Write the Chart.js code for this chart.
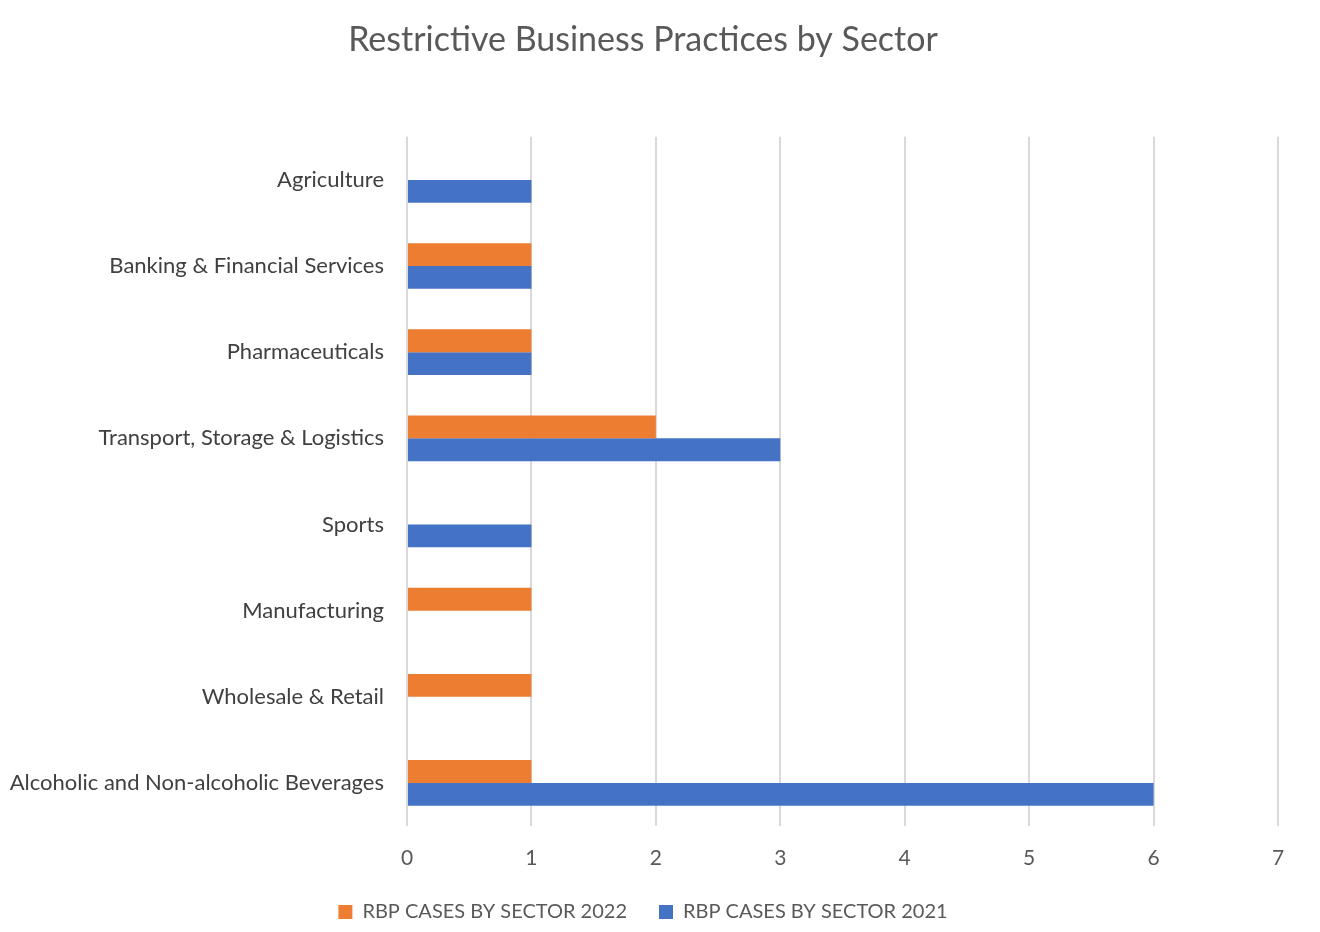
<!DOCTYPE html>
<html>
<head>
<meta charset="utf-8">
<script src="https://cdn.jsdelivr.net/npm/chart.js@4/dist/chart.umd.min.js"></script>
<style>
  html, body { margin: 0; padding: 0; background: #fff; }
  #wrap { width: 1320px; height: 932px; position: relative; }
</style>
</head>
<body>
<div id="wrap"><canvas id="chart"></canvas></div>
<script>
const sectors = [
  "Agriculture",
  "Banking & Financial Services",
  "Pharmaceuticals",
  "Transport, Storage & Logistics",
  "Sports",
  "Manufacturing",
  "Wholesale & Retail",
  "Alcoholic and Non-alcoholic Beverages"
];
const cases2022 = [0, 1, 1, 2, 0, 1, 1, 1];
const cases2021 = [1, 1, 1, 3, 1, 0, 0, 6];
const xTicks = [0, 1, 2, 3, 4, 5, 6, 7];

const textGray = "#595959";
const fontName = "Lato, 'Open Sans', sans-serif";

new Chart("chart", {
  type: "bar",
  data: {
    labels: sectors,
    datasets: [
      {
        label: "RBP CASES BY SECTOR 2022",
        backgroundColor: "#ED7D31",
        data: cases2022
      },
      {
        label: "RBP CASES BY SECTOR 2021",
        backgroundColor: "#4472C4",
        data: cases2021
      }
    ]
  },
  options: {
    indexAxis: "y",
    responsive: true,
    maintainAspectRatio: false,
    animation: false,
    datasets: {
      bar: { barPercentage: 1, categoryPercentage: 0.53 }
    },
    layout: { padding: { left: 8, right: 42, top: 0, bottom: 0 } },
    plugins: {
      title: {
        display: true,
        text: "Restrictive Business Practices by Sector",
        color: textGray,
        font: { family: fontName, size: 34, weight: "normal" },
        padding: { top: 20, bottom: 76 }
      },
      legend: {
        position: "bottom",
        labels: {
          color: textGray,
          font: { family: fontName, size: 20 },
          boxWidth: 14,
          boxHeight: 14,
          padding: 32
        }
      },
      tooltip: { enabled: false }
    },
    scales: {
      x: {
        min: 0,
        max: 7,
        afterBuildTicks: axis => { axis.ticks = xTicks.map(v => ({ value: v })); },
        grid: { color: "#d9d9d9", lineWidth: 2, drawTicks: false },
        border: { display: false },
        ticks: {
          color: textGray,
          font: { family: fontName, size: 21 },
          padding: 20
        },
        afterFit: axis => { axis.height = 44; }
      },
      y: {
        grid: { display: false },
        border: { display: false },
        ticks: {
          color: "#404040",
          font: { family: fontName, size: 22 },
          padding: 15
        },
        afterFit: axis => { axis.width = 399; }
      }
    }
  }
});
</script>
</body>
</html>
